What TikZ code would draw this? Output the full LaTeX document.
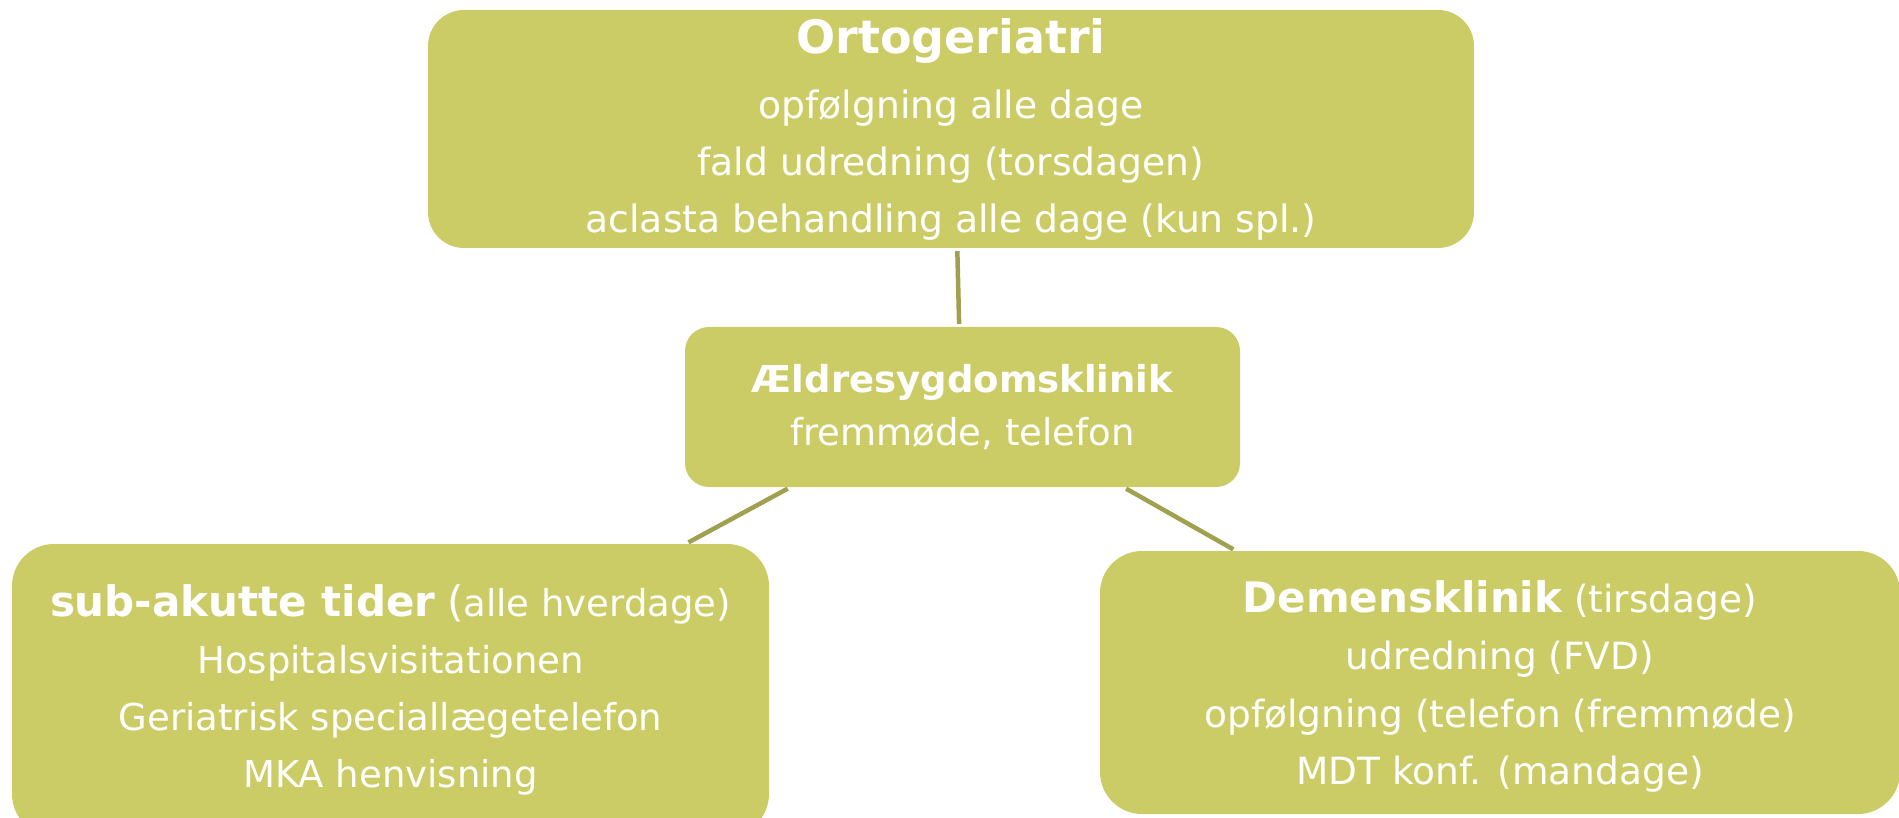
\documentclass[tikz,border=0pt]{standalone}
\usepackage{fontspec}
\setmainfont{DejaVu Sans}
\usetikzlibrary{calc}

\definecolor{boxfill}{RGB}{204,204,102}
\definecolor{linkcol}{RGB}{160,160,78}

\tikzset{
  box/.style={fill=boxfill, text=white, align=center, inner sep=0pt,
    font=\fontsize{37}{57}\selectfont},
  link/.style={draw=linkcol, line width=4.5pt, shorten <=3pt, shorten >=3pt},
}
\newcommand{\boxtitle}[1]{{\fontsize{46}{57}\selectfont\bfseries #1}}
\newcommand{\subtitle}[1]{{\fontsize{42}{57}\selectfont\bfseries #1}}

\begin{document}
\begin{tikzpicture}[x=1pt,y=-1pt]
\useasboundingbox (0,0) rectangle (1899,818);

\node[box, rounded corners=36pt, minimum width=1046pt, minimum height=238pt,
  font=\fontsize{37.7}{57}\selectfont] (orto) at (951,129)
  {\boxtitle{Ortogeriatri}\\[8pt]
   opfølgning alle dage\\
   fald udredning (torsdagen)\\
   aclasta behandling alle dage (kun spl.)};

\node[box, rounded corners=24pt, minimum width=555pt, minimum height=160pt] (aeldre) at (962.5,407)
  {{\fontsize{37}{57}\selectfont\bfseries Ældresygdomsklinik}\\[-4pt]
   fremmøde, telefon};

\node[box, rounded corners=42pt, minimum width=757pt, minimum height=292pt] (subakut) at (390.5,690)
  {\subtitle{sub-akutte tider} {\fontsize{42}{57}\selectfont(}alle hverdage)\\
   Hospitalsvisitationen\\
   Geriatrisk speciallægetelefon\\
   MKA henvisning};

\node[box, rounded corners=42pt, minimum width=800pt, minimum height=263pt,
  font=\fontsize{37.5}{57.5}\selectfont] (demens) at (1500,682.5)
  {\rule{0pt}{40pt}\subtitle{Demensklinik} (tirsdage)\\
   udredning (FVD)\\
   opfølgning (telefon (fremmøde)\\
   MDT konf. (mandage)};

\draw[link] ($(orto.south west)!0.506!(orto.south east)$) -- ($(aeldre.north west)!0.494!(aeldre.north east)$);
\draw[link] ($(aeldre.south west)!0.19!(aeldre.south east)$) -- ($(subakut.north west)!0.89!(subakut.north east)$);
\draw[link] ($(aeldre.south west)!0.79!(aeldre.south east)$) -- ($(demens.north west)!0.17!(demens.north east)$);
\end{tikzpicture}
\end{document}
